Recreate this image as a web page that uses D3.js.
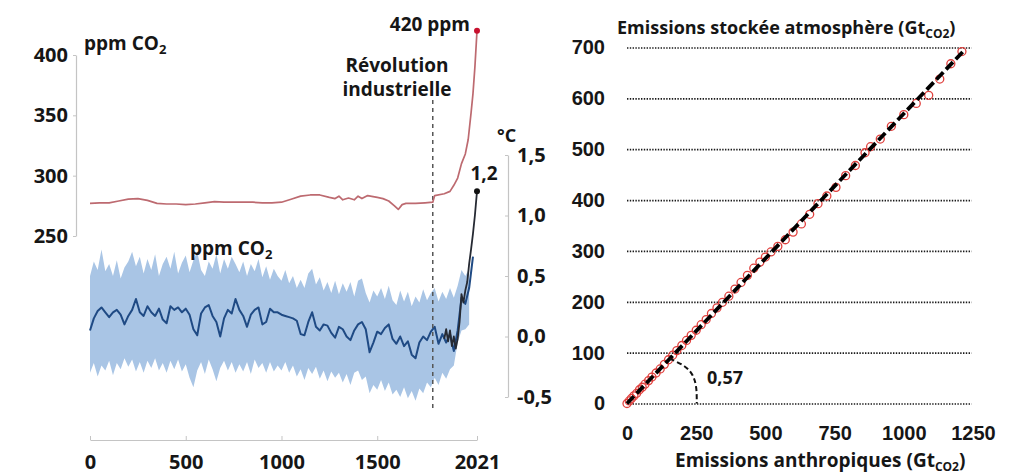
<!DOCTYPE html>
<html lang="fr">
<head>
<meta charset="utf-8">
<script src="https://cdn.jsdelivr.net/npm/d3@7"></script>
<style>
  html, body { margin: 0; padding: 0; background: #fff; }
  svg { display: block; font-family: "Open Sans", "Noto Sans", sans-serif; font-weight: 700; }
  text { fill: #161616; }
</style>
</head>
<body>
<script>
// ---- Left panel: CO2 concentration and temperature over the last 2000 years ----
const reconYears = [0,20,40,60,80,100,120,140,160,180,200,220,240,260,280,300,320,340,360,380,
  400,420,440,460,480,500,520,540,560,580,600,620,640,660,680,700,720,740,760,780,
  800,820,840,860,880,900,920,940,960,980,1000,1020,1040,1060,1080,1100,1120,1140,1160,1180,
  1200,1220,1240,1260,1280,1300,1320,1340,1360,1380,1400,1420,1440,1460,1480,1500,1520,1540,1560,1580,
  1600,1620,1640,1660,1680,1700,1720,1740,1760,1780,1800,1820,1840,1860,1880,1900,1920,1940,1960,1980,2000];

// reconstructed temperature anomaly (°C), median
const tempMedian = [0.05,0.15,0.21,0.24,0.20,0.16,0.20,0.22,0.18,0.10,
  0.17,0.22,0.31,0.20,0.17,0.25,0.20,0.17,0.23,0.14,
  0.11,0.25,0.22,0.24,0.20,0.23,0.18,0.06,0.01,0.19,
  0.24,0.26,0.17,0.12,0.00,0.15,0.22,0.19,0.31,0.22,
  0.17,0.08,0.18,0.22,0.24,0.10,0.12,0.23,0.20,0.20,
  0.18,0.17,0.16,0.15,0.13,0.02,0.01,0.12,0.20,0.08,
  0.05,0.10,0.09,0.03,-0.01,0.08,0.06,0.00,-0.03,0.05,
  0.10,0.12,0.06,-0.13,-0.05,0.04,0.02,0.07,0.10,-0.02,
  -0.06,0.00,-0.08,-0.04,-0.15,-0.18,-0.05,0.00,-0.03,0.04,
  0.08,-0.06,0.02,-0.05,0.02,-0.12,0.05,0.32,0.27,0.40,
  0.66];

// uncertainty range of the reconstruction (0 to 1980)
const tempUpper = [0.50,0.62,0.55,0.72,0.54,0.60,0.50,0.63,0.48,0.57,
  0.62,0.70,0.58,0.66,0.52,0.64,0.55,0.68,0.50,0.60,
  0.66,0.56,0.70,0.52,0.61,0.67,0.53,0.63,0.70,0.55,
  0.50,0.62,0.56,0.68,0.52,0.64,0.56,0.66,0.60,0.53,
  0.62,0.50,0.60,0.54,0.64,0.49,0.58,0.47,0.56,0.50,
  0.46,0.55,0.44,0.50,0.40,0.47,0.40,0.52,0.56,0.43,
  0.49,0.38,0.45,0.36,0.46,0.35,0.44,0.37,0.45,0.33,
  0.46,0.48,0.36,0.28,0.38,0.33,0.40,0.31,0.42,0.30,
  0.26,0.38,0.29,0.37,0.25,0.33,0.28,0.39,0.30,0.36,
  0.40,0.29,0.37,0.31,0.40,0.32,0.42,0.55,0.50,0.56];
const tempLower = [-0.30,-0.22,-0.33,-0.24,-0.28,-0.20,-0.32,-0.22,-0.27,-0.18,
  -0.25,-0.19,-0.29,-0.21,-0.30,-0.20,-0.26,-0.18,-0.28,-0.22,
  -0.30,-0.20,-0.27,-0.19,-0.29,-0.23,-0.34,-0.42,-0.28,-0.21,
  -0.31,-0.19,-0.27,-0.37,-0.26,-0.20,-0.28,-0.21,-0.30,-0.23,
  -0.29,-0.21,-0.31,-0.19,-0.26,-0.22,-0.30,-0.21,-0.29,-0.24,
  -0.28,-0.21,-0.30,-0.24,-0.33,-0.27,-0.36,-0.26,-0.31,-0.25,
  -0.35,-0.28,-0.37,-0.29,-0.34,-0.30,-0.38,-0.31,-0.40,-0.30,
  -0.28,-0.36,-0.33,-0.47,-0.40,-0.44,-0.36,-0.45,-0.38,-0.48,
  -0.44,-0.50,-0.42,-0.51,-0.45,-0.53,-0.43,-0.47,-0.38,-0.42,
  -0.34,-0.40,-0.30,-0.35,-0.27,-0.24,-0.05,0.05,0.06,0.10];

// observed temperature anomaly (°C)
const obsYears = [1850,1860,1870,1880,1890,1900,1910,1920,1930,1940,1950,1960,1970,1980,1990,2000,2010,2021];
const obsTemp  = [-0.02,0.06,-0.04,0.05,-0.08,0.00,-0.10,-0.02,0.12,0.35,0.28,0.38,0.45,0.60,0.72,0.85,1.00,1.20];

// atmospheric CO2 (ppm)
const co2Years = [0,50,100,150,200,250,300,350,400,450,500,550,600,650,700,750,800,850,900,950,
  1000,1050,1100,1150,1200,1250,1280,1300,1320,1350,1380,1400,1420,1450,1500,1530,1560,1590,1610,1630,
  1650,1700,1750,1790,1800,1850,1880,1900,1920,1940,1960,1975,1990,2000,2010,2021];
const co2Ppm = [277,277.5,277.5,279,280.5,281,279.5,277,276.5,276.5,276,276.5,277.5,278.5,278,278,278,278,277.5,277.5,
  278,280.5,283,284,284,282,281,283,280,281.5,280,283,281,283.5,282,281,279,275,272,276,
  277,277,277.5,278,283.5,285,287,292,298,310,318,330,352,368,390,420];

const yearTicks = [0, 500, 1000, 1500, 2021];
const ppmTicks = [250, 300, 350, 400];
const tempTicks = [-0.5, 0, 0.5, 1, 1.5];
const industrialYear = 1790;

// ---- Right panel: atmospheric storage vs cumulative anthropogenic emissions (GtCO2) ----
const emitted = [0,8,16,25,35,45,55,65,78,90,105,120,135,150,165,180,198,215,232,250,
  268,286,305,325,345,368,390,412,435,458,480,500,520,545,572,600,630,660,690,722,
  755,790,825,860,880,915,955,1000,1045,1090,1130,1170,1210];
const stored = [0,5,10,15,20,27,32,38,45,52,60,68,77,86,95,104,114,124,134,144,
  155,165,177,188,199,211,225,238,252,266,278,288,298,309,322,337,353,372,393,408,
  425,448,468,493,505,520,545,568,590,606,638,668,692];
const airborneFraction = 0.57;
const fitRange = [0, 1215];
const emittedTicks = [0, 250, 500, 750, 1000, 1250];
const storedTicks = [0, 100, 200, 300, 400, 500, 600, 700];
// quarter arc marking the slope
const slopeArc = [[155, 88], [212, 74], [240, 56], [252, 32], [252, 0]];

// ---------------------------------------------------------------------------
const fr = d3.formatLocale({decimal: ",", thousands: " ", grouping: [3], currency: ["", " €"], minus: "-"});
const fmt1 = fr.format(".1f");

const svg = d3.select("body").append("svg")
  .attr("width", 1016).attr("height", 475);

const xYear = d3.scaleLinear().domain([0, 2021]).range([90, 477]);
const yPpm  = d3.scaleLinear().domain([250, 400]).range([236, 55]);
const yTemp = d3.scaleLinear().domain([-0.5, 1.5]).range([397, 155]);

// uncertainty band
const bandData = tempUpper.map((u, i) => ({year: reconYears[i], hi: u, lo: tempLower[i]}));
svg.append("path")
  .datum(bandData)
  .attr("fill", "#a9c5e5")
  .attr("d", d3.area().x(d => xYear(d.year)).y0(d => yTemp(d.lo)).y1(d => yTemp(d.hi)));

// median reconstruction
svg.append("path")
  .datum(reconYears.map((y, i) => [y, tempMedian[i]]))
  .attr("fill", "none").attr("stroke", "#1f4a84").attr("stroke-width", 2).attr("stroke-linejoin", "round")
  .attr("d", d3.line().x(d => xYear(d[0])).y(d => yTemp(d[1])));

// observations
svg.append("path")
  .datum(obsYears.map((y, i) => [y, obsTemp[i]]))
  .attr("fill", "none").attr("stroke", "#262a33").attr("stroke-width", 1.8).attr("stroke-linejoin", "round")
  .attr("d", d3.line().x(d => xYear(d[0])).y(d => yTemp(d[1])));

// industrial revolution marker
svg.append("line")
  .attr("x1", xYear(industrialYear)).attr("x2", xYear(industrialYear))
  .attr("y1", 100).attr("y2", 410)
  .attr("stroke", "#555").attr("stroke-width", 1.5).attr("stroke-dasharray", "4,4");

// CO2 curve
svg.append("path")
  .datum(co2Years.map((y, i) => [y, co2Ppm[i]]))
  .attr("fill", "none").attr("stroke", "#bd6a70").attr("stroke-width", 1.7).attr("stroke-linejoin", "round")
  .attr("d", d3.line().x(d => xYear(d[0])).y(d => yPpm(d[1])));

const lastCo2 = co2Ppm[co2Ppm.length - 1];
const lastCo2Year = co2Years[co2Years.length - 1];
svg.append("circle").attr("cx", xYear(lastCo2Year)).attr("cy", yPpm(lastCo2)).attr("r", 3).attr("fill", "#c8102e");
const lastT = obsTemp[obsTemp.length - 1];
const lastTYear = obsYears[obsYears.length - 1];
svg.append("circle").attr("cx", xYear(lastTYear)).attr("cy", yTemp(lastT)).attr("r", 3).attr("fill", "#111");

// axes of the left panel
function styleAxis(g) {
  g.selectAll(".domain").attr("stroke", "#c4c4c4").attr("stroke-width", 1.2);
  g.selectAll(".tick line").attr("stroke", "#c4c4c4");
  g.selectAll(".tick text").attr("font-size", 20).attr("font-weight", 700)
    .attr("font-family", "'Open Sans', sans-serif").attr("fill", "#161616");
}
svg.append("g").attr("transform", "translate(76,0)")
  .call(d3.axisLeft(yPpm).tickValues(ppmTicks).tickSizeInner(3).tickSizeOuter(0).tickPadding(5).tickFormat(d3.format("d")))
  .call(styleAxis);

svg.append("g").attr("transform", "translate(508,0)")
  .call(d3.axisRight(yTemp).tickValues(tempTicks).tickSizeInner(-3).tickSizeOuter(0).tickPadding(9).tickFormat(fmt1))
  .call(styleAxis);

svg.append("g").attr("transform", "translate(0,440)")
  .call(d3.axisBottom(xYear).tickValues(yearTicks).tickSizeInner(-4).tickSizeOuter(0).tickPadding(15).tickFormat(d3.format("d")))
  .call(styleAxis);

// labels of the left panel
function ppmLabel(x, y) {
  const t = svg.append("text").attr("x", x).attr("y", y).attr("font-size", 19);
  t.append("tspan").text("ppm CO");
  t.append("tspan").attr("font-size", 13).attr("dy", 4).text("2");
}
ppmLabel(84, 50);
ppmLabel(190, 255);

svg.append("text").attr("x", xYear(lastCo2Year) - 7).attr("y", 31).attr("text-anchor", "end")
  .attr("font-size", 19).text(`${lastCo2} ppm`);
svg.append("text").attr("x", 397).attr("y", 72).attr("text-anchor", "middle").attr("font-size", 19).text("Révolution");
svg.append("text").attr("x", 397).attr("y", 96).attr("text-anchor", "middle").attr("font-size", 19).text("industrielle");
svg.append("text").attr("x", 497).attr("y", 142).attr("font-size", 18).text("°C");
svg.append("text").attr("x", 484).attr("y", 180).attr("text-anchor", "middle").attr("font-size", 19).text(fmt1(lastT));

// ---- right panel ----
const xE = d3.scaleLinear().domain([0, 1250]).range([627, 973]);
const yS = d3.scaleLinear().domain([0, 700]).range([403.5, 47.5]);

const gy = svg.append("g").attr("transform", "translate(627,0)")
  .call(d3.axisLeft(yS).tickValues(storedTicks).tickSizeInner(-(xE(1245) - xE(0))).tickSizeOuter(0).tickPadding(22).tickFormat(d3.format("d")));
gy.select(".domain").remove();
gy.selectAll(".tick line").attr("stroke", "#1a1a1a").attr("stroke-width", 1.7).attr("stroke-dasharray", "1.4,1.4");
gy.selectAll(".tick text").attr("font-size", 20).attr("font-weight", 700).attr("fill", "#161616");

const gx = svg.append("g").attr("transform", `translate(0,${yS(0)})`)
  .call(d3.axisBottom(xE).tickValues(emittedTicks).tickSize(0).tickPadding(22).tickFormat(d3.format("d")));
gx.select(".domain").remove();
gx.selectAll(".tick text").attr("font-size", 20).attr("font-weight", 700).attr("fill", "#161616");

// observed points
svg.append("g").selectAll("circle")
  .data(emitted.map((e, i) => [e, stored[i]]))
  .join("circle")
  .attr("cx", d => xE(d[0])).attr("cy", d => yS(d[1])).attr("r", 4)
  .attr("fill", "none").attr("stroke", "#e0413e").attr("stroke-width", 1.3);

// linear fit
svg.append("path")
  .datum(fitRange.map(e => [e, airborneFraction * e]))
  .attr("fill", "none").attr("stroke", "#000").attr("stroke-width", 3.8).attr("stroke-dasharray", "10,4")
  .attr("d", d3.line().x(d => xE(d[0])).y(d => yS(d[1])));

// slope arc and value
svg.append("path")
  .datum(slopeArc)
  .attr("fill", "none").attr("stroke", "#111").attr("stroke-width", 2).attr("stroke-dasharray", "5,3")
  .attr("d", d3.line().x(d => xE(d[0])).y(d => yS(d[1])).curve(d3.curveBasis));
svg.append("text").attr("x", 707).attr("y", 384).attr("font-size", 18).text(fr.format(".2f")(airborneFraction));

// axis titles
const ty = svg.append("text").attr("x", 617).attr("y", 34).attr("font-size", 18);
ty.append("tspan").text("Emissions stockée atmosphère (Gt");
ty.append("tspan").attr("font-size", 12).attr("dy", 4).text("CO2");
ty.append("tspan").attr("dy", -4).text(")");

const tx = svg.append("text").attr("x", 675).attr("y", 467).attr("font-size", 19);
tx.append("tspan").text("Emissions anthropiques (Gt");
tx.append("tspan").attr("font-size", 12).attr("dy", 4).text("CO2");
tx.append("tspan").attr("dy", -4).text(")");
</script>
</body>
</html>
